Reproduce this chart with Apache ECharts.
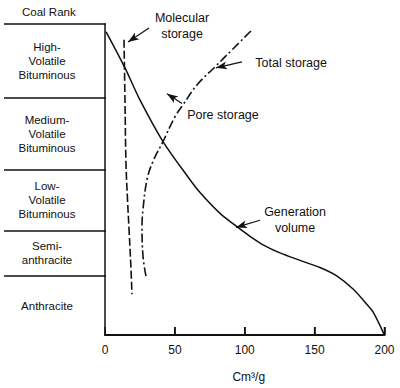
<!DOCTYPE html>
<html>
<head>
<meta charset="utf-8">
<script src="https://cdn.jsdelivr.net/npm/echarts@6/dist/echarts.min.js"></script>
<style>html,body{margin:0;padding:0;background:#fff}#c{width:400px;height:388px}</style>
</head>
<body>
<div id="c"></div>
<script>
// ---- data (x: cm3/g, y: coal-rank position, 0 = bottom (anthracite end), 100 = top) ----
var xTicks = [0, 50, 100, 150, 200];
var rankNames = ['High-\nVolatile\nBituminous', 'Medium-\nVolatile\nBituminous', 'Low-\nVolatile\nBituminous', 'Semi-\nanthracite', 'Anthracite'];
var rankBounds = [100, 76.3, 53.2, 33.7, 19.2, 0];
var generationVolume = [[0.8,97.5],[14.3,85.9],[25,75.6],[41.5,62.2],[59.4,50.8],[68,45.8],[82.3,39.1],[93,35.3],[103.8,31.7],[113.1,29.0],[125.2,26.4],[139.5,24.0],[153.8,21.7],[165.8,19.0],[177.7,14.7],[187.3,9.9],[191.8,7.4],[199.6,0.3]];
var molecularStorage = [[13.6,94.9],[14.3,75.6],[15.0,55.4],[16.1,43.6],[17.2,34.0],[18.6,21.2],[19.3,13.1]];
var totalStorage = [[29.3,18.9],[27.2,25.3],[26.5,34.9],[27.2,40.4],[30.1,50.0],[34.3,55.8],[41.5,62.2],[50.1,70.2],[55.8,74.0],[65.8,80.4],[78.7,86.2],[90.9,91.7],[105.2,98.1]];

// ---- annotation layout (data coordinates) ----
var notes = [
  {text: 'Molecular\nstorage', at: [55.1, 99.4], from: [31.5, 98.7], to: [16.5, 94.2]},
  {text: 'Total storage', at: [133.2, 87.5], from: [98, 87.8], to: [79.4, 85.9]},
  {text: 'Pore storage', at: [84.4, 70.8], from: [55.1, 74.4], to: [44.4, 77.6]},
  {text: 'Generation\nvolume', at: [136, 36.9], from: [110.9, 36.9], to: [93.7, 34.6]}
];

var FONT = '"Liberation Sans", Arial, Helvetica, sans-serif';
var chart = echarts.init(document.getElementById('c'), null, {renderer: 'svg'});

var bandAreas = rankNames.map(function (n, i) {
  return [{yAxis: rankBounds[i], name: n}, {yAxis: rankBounds[i + 1]}];
});
var bandLines = rankBounds.slice(0, rankBounds.length - 1).map(function (b) { return {yAxis: b}; });

chart.setOption({
  animation: false,
  textStyle: {fontFamily: FONT},
  graphic: [{
    id: 'header', type: 'text', left: 22, top: 6,
    style: {text: 'Coal Rank', font: '11.5px ' + FONT, fill: '#111'}
  }],
  grid: [
    {left: 105, right: 15.5, top: 24, bottom: 52},
    {left: 4, width: 102, top: 24, bottom: 52}
  ],
  xAxis: [
    {
      type: 'value', gridIndex: 0, min: xTicks[0], max: xTicks[xTicks.length - 1], interval: 50,
      name: 'Cm\u00b3/g', nameLocation: 'middle', nameGap: 36,
      nameTextStyle: {color: '#111', fontSize: 12, fontFamily: FONT, padding: [0, 0, 0, 8]},
      axisLine: {lineStyle: {color: '#111', width: 2}},
      axisTick: {show: true, inside: true, length: 8, lineStyle: {color: '#111', width: 1.5}},
      axisLabel: {color: '#111', fontSize: 12, margin: 9, fontFamily: FONT},
      splitLine: {show: false}
    },
    {type: 'value', gridIndex: 1, min: 0, max: 1, show: false}
  ],
  yAxis: [
    {
      type: 'value', gridIndex: 0, min: 0, max: 100,
      axisLine: {show: true, lineStyle: {color: '#111', width: 1.5}},
      axisTick: {show: false}, axisLabel: {show: false}, splitLine: {show: false}
    },
    {type: 'value', gridIndex: 1, min: 0, max: 100, show: false}
  ],
  series: [
    {
      name: 'Coal rank', type: 'line', xAxisIndex: 1, yAxisIndex: 1, data: [],
      markArea: {
        silent: true,
        itemStyle: {color: 'rgba(0,0,0,0)'},
        label: {show: true, position: 'inside', offset: [-8, 0], color: '#111',
          fontSize: 11.5, lineHeight: 14, fontFamily: FONT, align: 'center'},
        data: bandAreas
      },
      markLine: {
        silent: true, symbol: 'none', label: {show: false},
        lineStyle: {color: '#111', width: 1.5, type: 'solid'},
        data: bandLines
      }
    },
    {
      name: 'Generation volume', type: 'line', data: generationVolume, smooth: 0.3,
      showSymbol: false, symbol: 'none',
      lineStyle: {color: '#111', width: 1.5}
    },
    {
      name: 'Molecular storage', type: 'line', data: molecularStorage, smooth: 0.4,
      showSymbol: false, symbol: 'none',
      lineStyle: {color: '#111', width: 1.6, type: [8, 3]}
    },
    {
      name: 'Total storage', type: 'line', data: totalStorage, smooth: 0.4,
      showSymbol: false, symbol: 'none',
      lineStyle: {color: '#111', width: 1.6, type: [9, 3, 2, 3]}
    },
    {
      name: 'Annotations', type: 'line', data: [],
      markLine: {
        silent: true, symbol: ['none', 'arrow'], symbolSize: [6, 11],
        label: {show: false},
        lineStyle: {color: '#111', width: 1.2, type: 'solid'},
        data: notes.map(function (n) { return [{coord: n.from}, {coord: n.to}]; })
      },
      markPoint: {
        silent: true, symbol: 'circle', symbolSize: 1,
        itemStyle: {color: 'rgba(0,0,0,0)'},
        label: {show: true, position: 'inside', color: '#111', fontSize: 12.5,
          lineHeight: 16, fontFamily: FONT, align: 'center'},
        data: notes.map(function (n) { return {coord: n.at, value: n.text, label: {formatter: n.text}}; })
      }
    }
  ]
});

// inward tick marks, positioned through the x axis scale
var tickGraphics = [];
xTicks.slice(1).forEach(function (t, i) {
  var p = chart.convertToPixel({gridIndex: 0}, [t, 0]);
  if (p && isFinite(p[0]) && isFinite(p[1])) {
    tickGraphics.push({
      id: 'tick' + i, type: 'line', z: 100,
      shape: {x1: p[0], y1: p[1], x2: p[0], y2: p[1] - 8},
      style: {stroke: '#111', lineWidth: 1.5}
    });
  }
});
chart.setOption({graphic: tickGraphics});
</script>
</body>
</html>
